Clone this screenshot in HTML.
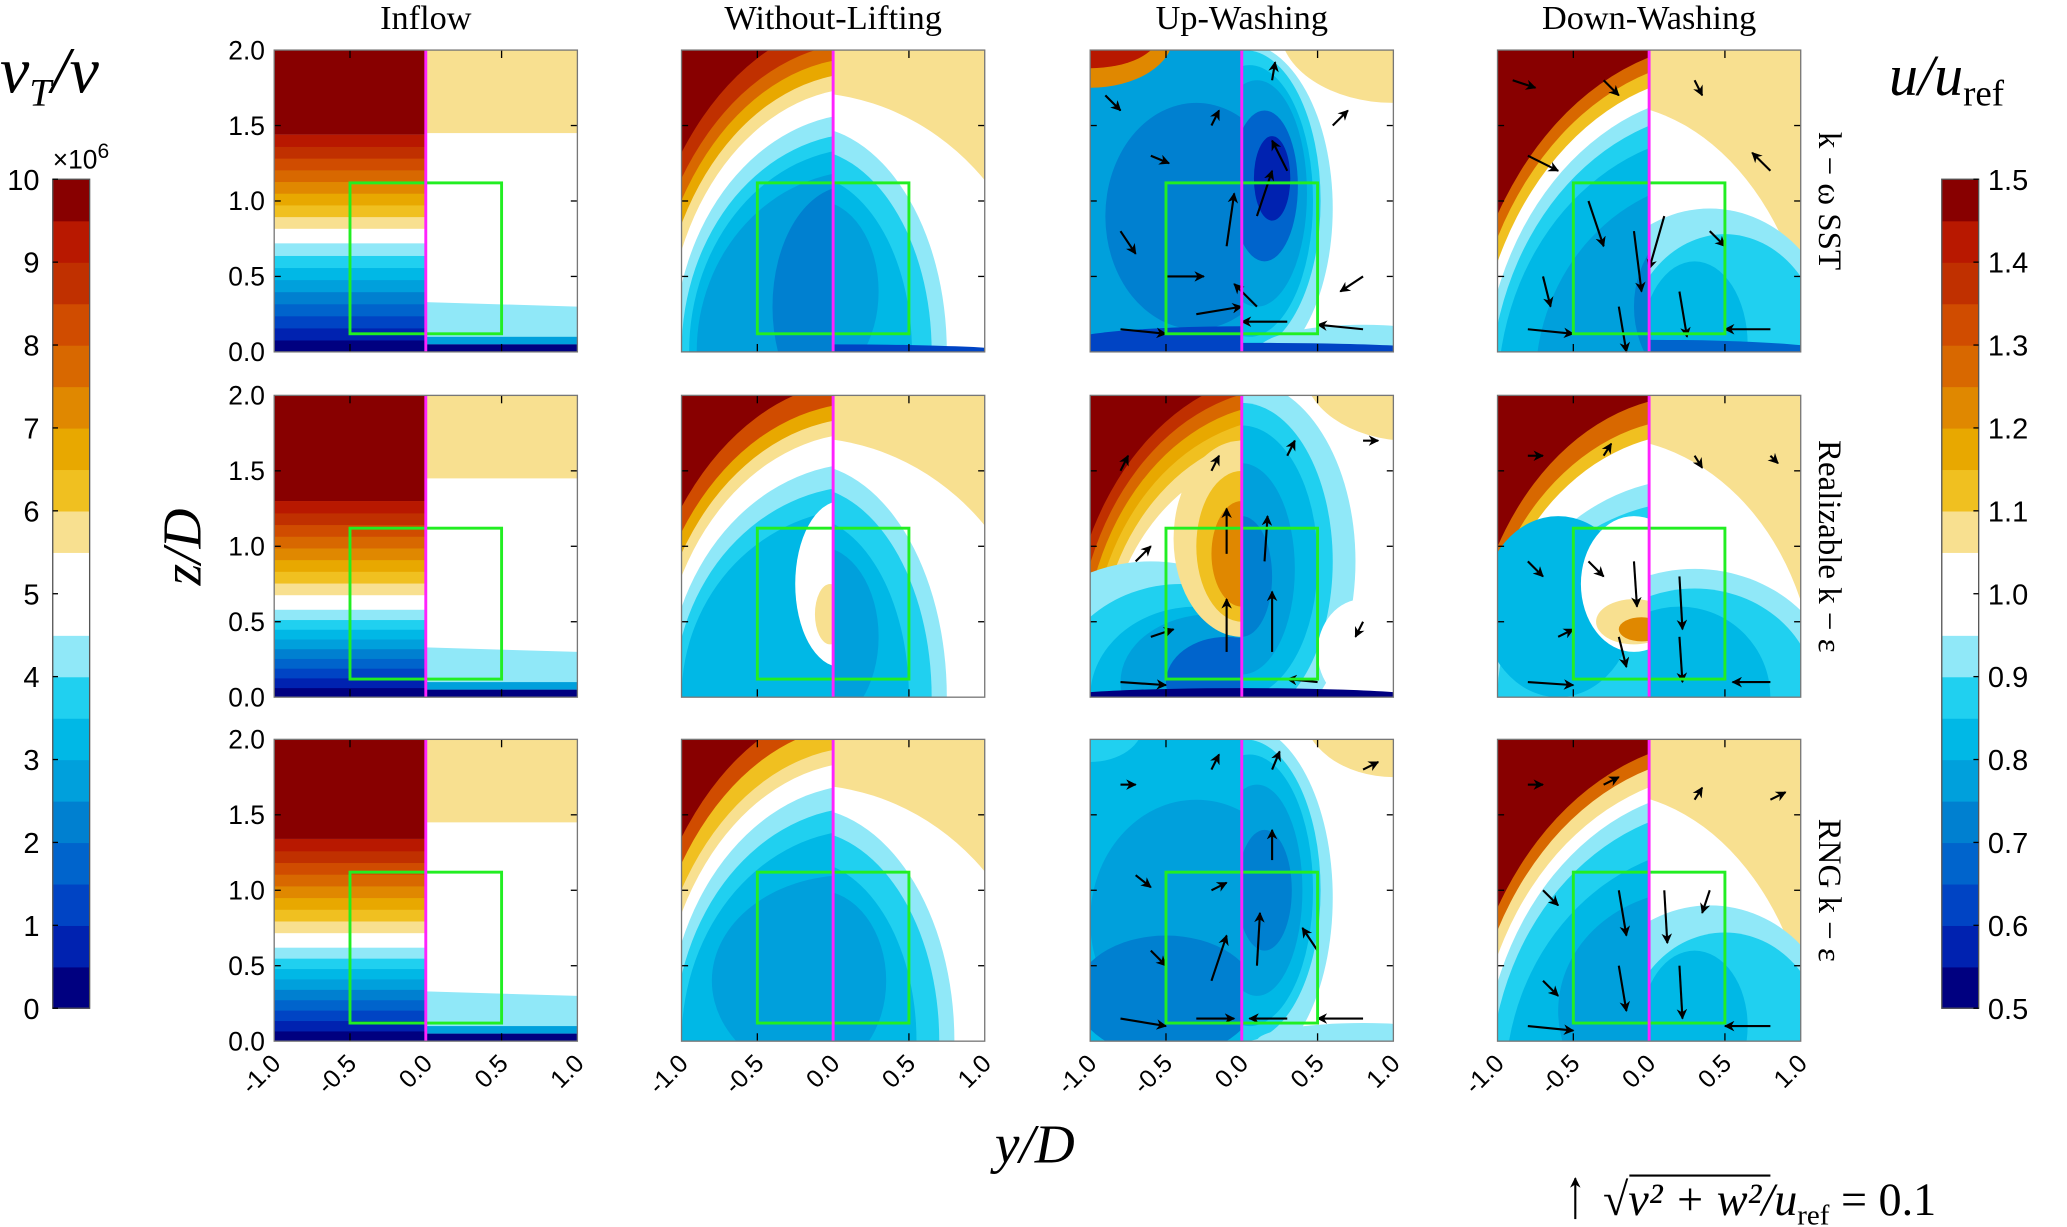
<!DOCTYPE html>
<html><head><meta charset="utf-8"><style>
html,body{margin:0;padding:0;background:#fff;overflow:hidden;width:2067px;height:1227px;position:relative}
#fig{position:absolute;left:0;top:0;display:block}
.t{font-family:"Liberation Serif",serif}
.s{font-family:"Liberation Sans",sans-serif}
</style></head><body>
<svg id="fig" xmlns="http://www.w3.org/2000/svg" width="2067" height="1227" viewBox="0 0 1568 931" preserveAspectRatio="none" overflow="hidden">
<defs>
<marker id="ah" viewBox="0 0 10 10" refX="9" refY="5" markerWidth="5" markerHeight="5" orient="auto"><path d="M0,0 L10,5 L0,10 L3,5 z" fill="#000"/></marker>
</defs>
<g id="root"></g>
<text x="0" y="70" font-size="50" class="t" font-style="italic">ν<tspan font-size="30" dy="10">T</tspan><tspan dy="-10">/ν</tspan></text>
<text x="1433" y="72" font-size="44" class="t" font-style="italic">u/u<tspan font-size="28" dy="8" font-style="normal">ref</tspan></text>
<text x="152" y="415" font-size="42" class="t" font-style="italic" text-anchor="middle" transform="rotate(-90 152 415)">z/D</text>
<text x="785" y="882" font-size="42" class="t" font-style="italic" text-anchor="middle">y/D</text>
<g>
<line x1="1195" y1="925" x2="1195" y2="894" stroke="#000" stroke-width="1.6" marker-end="url(#ah)"/>
<text x="1216" y="922" font-size="35" class="t" font-style="italic">√v² + w²/u<tspan font-size="22" dy="7" font-style="normal">ref</tspan><tspan dy="-7" font-style="normal"> = 0.1</tspan></text>
<line x1="1236" y1="892" x2="1343" y2="892" stroke="#000" stroke-width="1.6"/>
</g>
</svg>
<script>
// ----- data -----
const palette = ["#000080","#0022b0","#0044c4","#0064cc","#0080d0","#00a0dc","#00b8e6","#20d0f0","#90e8f8","#ffffff","#f8e090","#f0c020","#e8a800","#e08800","#d86800","#d04c00","#c03000","#b81800","#880000"];
const colTitles = ["Inflow","Without-Lifting","Up-Washing","Down-Washing"];
const rowTitles = ["k − ω SST","Realizable k − ε","RNG k − ε"];
const zTicks = [0.0,0.5,1.0,1.5,2.0];
const yTicks = [-1.0,-0.5,0.0,0.5,1.0];
const nuTicks = [0,1,2,3,4,5,6,7,8,9,10];
const uTicks = [0.5,0.6,0.7,0.8,0.9,1.0,1.1,1.2,1.3,1.4,1.5];
const inflowWhite = [0.72,0.58,0.62];
const layers = [
 [ {L:[18,[0.2,0,1.5,2.2,16],[0.2,0,1.45,2.05,14],[0.2,0,1.4,1.95,12],[0.2,0,1.35,1.85,10],[0.2,0,1.3,1.75,9],[0.2,0,1.25,1.58,8],[0.2,0,1.2,1.45,7],[0.2,0,1.15,1.35,6],[0.2,0,1.1,1.2,5],[0.1,0.3,0.5,0.8,4]],
    R:[10,[-0.2,0,1.6,1.72,9],[-0.2,0,0.95,1.5,8],[-0.2,0,0.85,1.35,7],[-0.2,0,0.72,1.18,6],[-0.1,0.4,0.4,0.6,5],[0,0,1.2,0.05,2]]},
   {L:[5,[-1,2.1,0.55,0.35,13],[-1,2.1,0.45,0.22,17],[-0.3,0.9,0.6,0.75,4],[0,0.05,1.2,0.12,2]],
    R:[9,[1.0,2.15,0.75,0.5,10],[0,0.95,0.6,1.1,8],[0.02,1.0,0.5,1.0,7],[0.05,1.0,0.42,0.9,6],[0.1,1.05,0.33,0.75,5],[0.15,1.1,0.22,0.5,3],[0.2,1.15,0.12,0.28,1],[0.8,0,0.7,0.18,8],[0,0.02,1.2,0.04,2]]},
   {L:[18,[0.5,-0.3,1.75,2.35,14],[0.5,-0.3,1.7,2.25,11],[0.5,-0.3,1.65,2.15,9],[0.5,-0.3,1.6,2.02,8],[0.5,-0.3,1.55,1.9,7],[0.5,-0.3,1.5,1.75,6],[0.5,-0.2,1.25,1.35,5],[0.4,0.3,0.5,0.6,4]],
    R:[10,[-0.3,-0.3,1.4,1.95,9],[0.4,0,0.85,0.95,8],[0.5,0,0.65,0.78,7],[0.3,0.05,0.35,0.55,6],[0,0,1.2,0.08,3]]} ],
 [ {L:[18,[0.2,0,1.5,2.1,15],[0.2,0,1.45,1.95,12],[0.2,0,1.4,1.85,10],[0.2,0,1.35,1.75,9],[0.2,0,1.3,1.55,8],[0.2,0,1.25,1.4,7],[0.2,0,1.2,1.25,6],[0.05,0.75,0.3,0.55,9],[-0.02,0.55,0.1,0.2,10]],
    R:[10,[-0.2,0,1.6,1.72,9],[-0.2,0,0.95,1.55,8],[-0.2,0,0.85,1.4,7],[-0.2,0,0.7,1.2,6],[-0.1,0.4,0.4,0.6,5]]},
   {L:[18,[0.3,0.2,1.45,1.95,16],[0.3,0.2,1.4,1.85,14],[0.3,0.2,1.35,1.75,12],[0.3,0.2,1.3,1.65,11],[0.3,0.2,1.25,1.55,10],[0.3,0.2,1.2,1.42,9],[-0.6,0,1.0,0.9,8],[-0.4,0,0.85,0.75,7],[-0.3,0,0.7,0.6,6],[-0.2,0.1,0.6,0.45,5],[-0.1,0.1,0.4,0.3,3],[0,0,1.2,0.06,0],[0,1.05,0.45,0.65,10],[0,1.0,0.3,0.5,11],[0,0.95,0.2,0.35,13]],
    R:[9,[1.1,2.2,0.7,0.5,10],[0,0.9,0.75,1.2,8],[0,0.9,0.6,1.05,7],[0,0.9,0.5,0.9,6],[0,0.85,0.35,0.7,5],[0,0.8,0.2,0.4,4],[0.8,0.3,0.3,0.35,9],[0,0,1.2,0.06,0]]},
   {L:[18,[0.3,0,1.5,2.0,14],[0.3,0,1.45,1.85,11],[0.3,0,1.4,1.75,9],[0.3,0,1.35,1.45,8],[0.3,0,1.3,1.3,7],[-0.6,0.6,0.5,0.6,6],[-0.1,0.75,0.35,0.45,9],[-0.1,0.5,0.25,0.15,10],[-0.05,0.45,0.15,0.08,13]],
    R:[10,[-0.3,0,1.4,1.72,9],[0.3,0,0.95,0.85,8],[0.3,0,0.8,0.72,7],[0.2,0,0.6,0.6,6]]} ],
 [ {L:[18,[0.2,0,1.5,2.25,15],[0.2,0,1.45,2.1,11],[0.2,0,1.4,1.95,10],[0.2,0,1.35,1.85,9],[0.2,0,1.3,1.7,8],[0.2,0,1.25,1.55,7],[0.2,0,1.2,1.4,6],[0.1,0.4,0.9,0.7,5]],
    R:[10,[-0.2,0,1.6,1.7,9],[-0.2,0,1.0,1.55,8],[-0.2,0,0.9,1.4,7],[-0.2,0,0.75,1.2,6],[-0.1,0.4,0.45,0.6,5]]},
   {L:[6,[-1,2.1,0.35,0.25,7],[-0.3,0.8,0.7,0.8,5],[-0.5,0.3,0.6,0.4,4]],
    R:[9,[1.0,2.2,0.6,0.45,10],[0,0.95,0.6,1.15,8],[0.02,1.0,0.5,1.0,7],[0.05,1.0,0.42,0.9,6],[0.1,1.0,0.3,0.7,5],[0.15,1.0,0.18,0.4,4],[0.8,0,0.7,0.12,8]]},
   {L:[18,[0.5,-0.3,1.75,2.3,14],[0.5,-0.3,1.7,2.2,10],[0.5,-0.3,1.65,2.08,9],[0.5,-0.3,1.6,1.98,8],[0.5,-0.3,1.55,1.85,7],[0.5,-0.3,1.45,1.6,6],[0.3,0.2,0.9,0.8,5]],
    R:[10,[-0.3,-0.3,1.4,1.95,9],[0.4,0,0.85,0.9,8],[0.5,0,0.65,0.72,7],[0.3,0.1,0.35,0.5,6]]} ]
];
const arrows = [
 [ [],
   [[-0.9,1.7,0.1,-0.1],[-0.6,1.3,0.12,-0.05],[-0.2,1.5,0.05,0.1],[0.2,1.8,0.02,0.12],[0.6,1.5,0.1,0.1],[-0.8,0.8,0.1,-0.15],[-0.5,0.5,0.25,0],[-0.1,0.7,0.05,0.35],[0.1,0.9,0.1,0.3],[0.3,1.2,-0.1,0.2],[0.8,0.5,-0.15,-0.1],[-0.8,0.15,0.3,-0.03],[-0.3,0.25,0.3,0.05],[0.3,0.2,-0.3,0],[0.8,0.15,-0.3,0.03],[0.1,0.3,-0.15,0.15]],
   [[-0.9,1.8,0.15,-0.05],[-0.3,1.8,0.1,-0.1],[0.3,1.8,0.05,-0.1],[0.8,1.2,-0.12,0.12],[-0.8,1.3,0.2,-0.1],[-0.4,1.0,0.1,-0.3],[-0.1,0.8,0.05,-0.4],[0.1,0.9,-0.1,-0.35],[0.4,0.8,0.1,-0.1],[-0.7,0.5,0.05,-0.2],[-0.2,0.3,0.05,-0.3],[0.2,0.4,0.05,-0.3],[-0.8,0.15,0.3,-0.03],[0.8,0.15,-0.3,0]] ],
 [ [],
   [[-0.8,1.5,0.05,0.1],[-0.2,1.5,0.05,0.1],[0.3,1.6,0.05,0.1],[0.8,1.7,0.1,0],[-0.7,0.9,0.1,0.1],[-0.1,0.95,0,0.3],[0.15,0.9,0.02,0.3],[-0.6,0.4,0.15,0.05],[-0.1,0.3,0,0.35],[0.2,0.3,0,0.4],[-0.8,0.1,0.3,-0.02],[0.5,0.1,-0.2,0.02],[0.8,0.5,-0.05,-0.1]],
   [[-0.8,1.6,0.1,0],[-0.3,1.6,0.05,0.08],[0.3,1.6,0.05,-0.08],[0.8,1.6,0.05,-0.05],[-0.8,0.9,0.1,-0.1],[-0.4,0.9,0.1,-0.1],[-0.1,0.9,0.02,-0.3],[0.2,0.8,0.02,-0.35],[-0.6,0.4,0.1,0.05],[-0.2,0.4,0.05,-0.2],[0.2,0.4,0.02,-0.3],[-0.8,0.1,0.3,-0.02],[0.8,0.1,-0.25,0]] ],
 [ [],
   [[-0.8,1.7,0.1,0],[-0.2,1.8,0.05,0.1],[0.2,1.8,0.05,0.12],[0.8,1.8,0.1,0.05],[-0.7,1.1,0.1,-0.08],[-0.2,1.0,0.1,0.05],[0.2,1.2,0,0.2],[-0.6,0.6,0.1,-0.1],[-0.2,0.4,0.1,0.3],[0.1,0.5,0.02,0.35],[0.5,0.6,-0.1,0.15],[-0.8,0.15,0.3,-0.05],[-0.3,0.15,0.25,0],[0.3,0.15,-0.25,0],[0.8,0.15,-0.3,0]],
   [[-0.8,1.7,0.1,0],[-0.3,1.7,0.1,0.05],[0.3,1.6,0.05,0.08],[0.8,1.6,0.1,0.05],[-0.7,1.0,0.1,-0.1],[-0.2,1.0,0.05,-0.3],[0.1,1.0,0.02,-0.35],[0.4,1.0,-0.05,-0.15],[-0.7,0.4,0.1,-0.1],[-0.2,0.5,0.05,-0.3],[0.2,0.5,0.02,-0.35],[-0.8,0.1,0.3,-0.03],[0.8,0.1,-0.3,0]] ]
];
// ----- layout -----
const colX = [208,517,827,1136], panelW = 230;
const rowY = [38,300,561], panelH = 229;
const NS = "http://www.w3.org/2000/svg";
const root = document.getElementById("root");
function el(tag, attrs, parent){const e=document.createElementNS(NS,tag);for(const k in attrs)e.setAttribute(k,attrs[k]);(parent||root).appendChild(e);return e;}
function X(c,y){return colX[c]+(y+1)/2*panelW;}
function Z(r,z){return rowY[r]+panelH-z/2*panelH;}

for(let r=0;r<3;r++){
 for(let c=0;c<4;c++){
  const g=el("g",{});
  
  
  const x0=colX[c], y0=rowY[r], xm=X(c,0);
  const cpL=el("clipPath",{id:"cl"+r+c},g); el("rect",{x:x0,y:y0,width:xm-x0,height:panelH},cpL);
  const cpR=el("clipPath",{id:"cr"+r+c},g); el("rect",{x:xm,y:y0,width:x0+panelW-xm,height:panelH},cpR);
  const gl=el("g",{"clip-path":"url(#cl"+r+c+")"},g);
  const gr=el("g",{"clip-path":"url(#cr"+r+c+")"},g);
  if(c===0){
   const w=inflowWhite[r];
   const bandsLo=[];for(let i=0;i<9;i++)bandsLo.push([i*w/9,(i+1)*w/9,i]);
   bandsLo.forEach(b=>el("rect",{x:x0,y:Z(r,b[1]),width:xm-x0,height:Z(r,b[0])-Z(r,b[1])+0.5,fill:palette[b[2]]},gl));
   el("rect",{x:x0,y:Z(r,w+0.1),width:xm-x0,height:Z(r,w)-Z(r,w+0.1),fill:"#fff"},gl);
   const top=w+0.1, span=0.62;
   for(let i=0;i<8;i++){const a=top+i*span/8,b=top+(i+1)*span/8;el("rect",{x:x0,y:Z(r,b),width:xm-x0,height:Z(r,a)-Z(r,b)+0.5,fill:palette[10+i]},gl);}
   el("rect",{x:x0,y:y0,width:xm-x0,height:Z(r,top+span)-y0,fill:palette[18]},gl);
   el("rect",{x:xm,y:y0,width:panelW/2,height:panelH,fill:"#fff"},gr);
   el("rect",{x:xm,y:y0,width:panelW/2,height:Z(r,1.45)-y0,fill:palette[10]},gr);
   el("path",{d:`M${xm},${Z(r,0.33)} L${x0+panelW},${Z(r,0.3)} L${x0+panelW},${Z(r,0)} L${xm},${Z(r,0)}Z`,fill:palette[8]},gr);
   el("rect",{x:xm,y:Z(r,0.1),width:panelW/2,height:Z(r,0.05)-Z(r,0.1),fill:palette[5]},gr);
   el("rect",{x:xm,y:Z(r,0.05),width:panelW/2,height:Z(r,0)-Z(r,0.05),fill:palette[0]},gr);
  } else {
   const spec=layers[r][c-1];
   [["L",gl],["R",gr]].forEach(([s,gg])=>{
     const arr=spec[s];
     el("rect",{x:x0,y:y0,width:panelW,height:panelH,fill:palette[arr[0]]},gg);
     for(let i=1;i<arr.length;i++){const e=arr[i];
       el("ellipse",{cx:X(c,e[0]),cy:Z(r,e[1]),rx:e[2]/2*panelW,ry:e[3]/2*panelH,fill:palette[e[4]]},gg);}
   });
   arrows[r][c-1].forEach(a=>{
     const ar=el("line",{x1:X(c,a[0]),y1:Z(r,a[1]),x2:X(c,a[0]+a[2]),y2:Z(r,a[1]+a[3]),stroke:"#000","stroke-width":1.6,"marker-end":"url(#ah)"},g);
     
     
   });
  }
  zTicks.slice(1,4).forEach(z=>{el("line",{x1:x0,y1:Z(r,z),x2:x0+5,y2:Z(r,z),stroke:"#000"},g);el("line",{x1:x0+panelW-5,y1:Z(r,z),x2:x0+panelW,y2:Z(r,z),stroke:"#000"},g);});
  yTicks.slice(1,4).forEach(y=>{el("line",{x1:X(c,y),y1:y0,x2:X(c,y),y2:y0+6,stroke:"#000"},g);el("line",{x1:X(c,y),y1:y0+panelH-6,x2:X(c,y),y2:y0+panelH,stroke:"#000"},g);});
  const gb=el("rect",{x:X(c,-0.5),y:Z(r,1.12),width:X(c,0.5)-X(c,-0.5),height:Z(r,0.12)-Z(r,1.12),fill:"none",stroke:"#22ee22","stroke-width":2.2},g);
  
  
  const ml=el("line",{x1:xm,y1:y0,x2:xm,y2:y0+panelH,stroke:"#ff22ff","stroke-width":2.2},g);
  
  
  el("rect",{x:x0,y:y0,width:panelW,height:panelH,fill:"none",stroke:"#777","stroke-width":1},g);
 }
 zTicks.forEach(z=>{const t=el("text",{x:201,y:Z(r,z)+7,"text-anchor":"end","font-size":20,class:"s"});t.textContent=z.toFixed(1);
   });
 const rt=el("text",{x:1380,y:(rowY[r]+panelH/2),"font-size":25,class:"t","text-anchor":"middle",transform:`rotate(90 1380 ${rowY[r]+panelH/2})`});
 rt.textContent=rowTitles[r];
 
 
}
for(let c=0;c<4;c++){
 const t=el("text",{x:colX[c]+panelW/2,y:22,"text-anchor":"middle","font-size":26,class:"t"});t.textContent=colTitles[c];
 
 yTicks.forEach(y=>{const px=X(c,y),py=800;const l=el("text",{x:px+6,y:py+8,"text-anchor":"end","font-size":19,class:"s",transform:`rotate(-45 ${px+6} ${py+8})`});l.textContent=y.toFixed(1);
   });
}
function colorbar(x,name){
 const g=el("g",{});
 const top=136,bot=765,h=(bot-top)/20;
 for(let i=0;i<20;i++){const ci=i<9?i:(i<11?9:i-1);el("rect",{x:x,y:bot-(i+1)*h,width:28,height:h+0.5,fill:palette[ci]},g);}
 el("rect",{x:x,y:top,width:28,height:bot-top,fill:"none",stroke:"#555"},g);
 return {g,top,bot};
}
const cl=colorbar(40,'nu-colorbar');
nuTicks.forEach(v=>{const y=cl.bot-v/10*(cl.bot-cl.top);const t=el("text",{x:30,y:y+8,"text-anchor":"end","font-size":22,class:"s"},cl.g);t.textContent=v;
 el("line",{x1:40,y1:y,x2:44,y2:y,stroke:"#000"},cl.g);});
const x6=el("text",{x:40,y:128,"font-size":20,class:"s"},cl.g);x6.innerHTML='×10<tspan dy="-8" font-size="16">6</tspan>';
const cr=colorbar(1473,'u-colorbar');
uTicks.forEach(v=>{const y=cr.bot-(v-0.5)*(cr.bot-cr.top);const t=el("text",{x:1508,y:y+8,"font-size":22,class:"s"},cr.g);t.textContent=v.toFixed(1);
 el("line",{x1:1497,y1:y,x2:1501,y2:y,stroke:"#000"},cr.g);});
</script>
</body></html>
